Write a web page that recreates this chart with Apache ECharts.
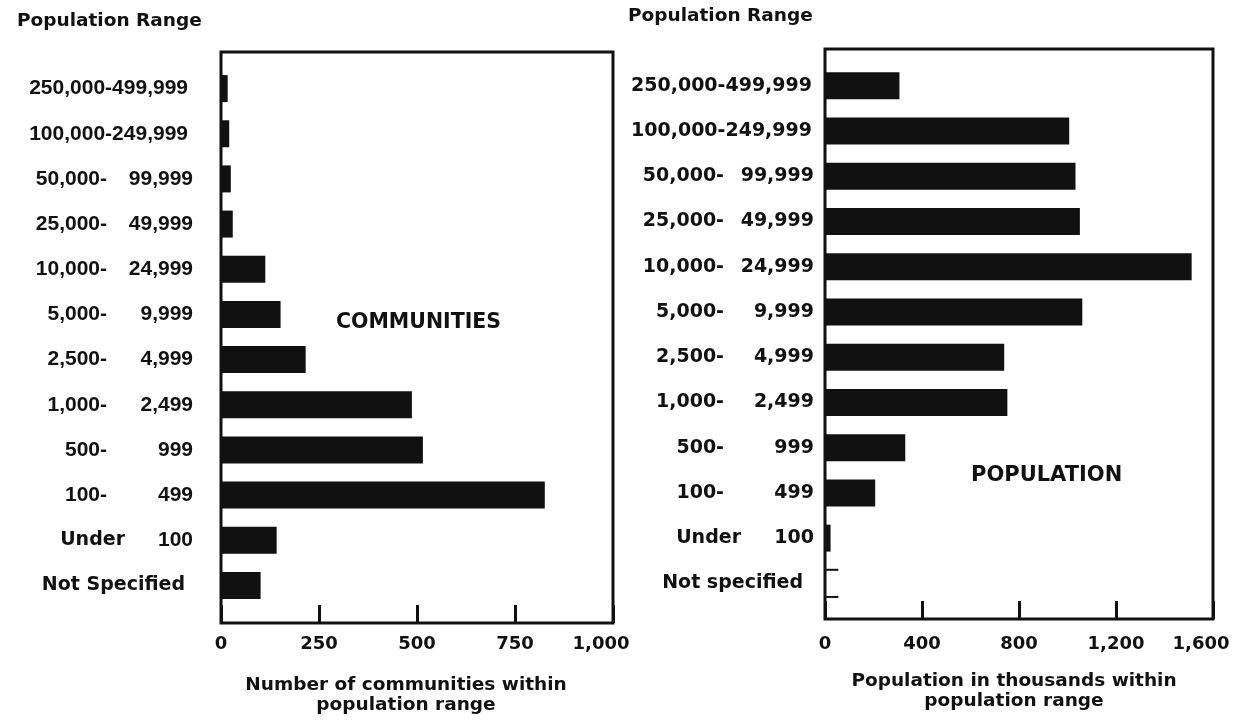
<!DOCTYPE html>
<html>
<head>
<meta charset="utf-8">
<title>Communities and population by population range</title>
<script src="https://cdn.jsdelivr.net/npm/echarts@6/dist/echarts.min.js"></script>
<style>
  html, body { margin: 0; padding: 0; background: #fff; }
  #chart { width: 1237px; height: 722px; }
</style>
</head>
<body>
<div id="chart"></div>
<script>
// Population ranges, top to bottom
const ranges = ['250,000-499,999', '100,000-249,999', '50,000-99,999', '25,000-49,999', '10,000-24,999',
    '5,000-9,999', '2,500-4,999', '1,000-2,499', '500-999', '100-499', 'Under 100', 'Not specified'];
const rangeFrom = ['250,000-', '100,000-', '50,000-', '25,000-', '10,000-', '5,000-', '2,500-', '1,000-', '500-', '100-', 'Under', ''];
const rangeTo = ['499,999', '249,999', '99,999', '49,999', '24,999', '9,999', '4,999', '2,499', '999', '499', '100', ''];
const notSpecifiedText = ['Not Specified', 'Not specified']; // left panel, right panel

// Number of communities within population range
const communityCounts = [17, 21, 25, 30, 113, 152, 216, 487, 515, 826, 142, 101];
// Population in thousands within population range (no figure for "Not specified")
const populationThousands = [307, 1007, 1033, 1051, 1512, 1061, 739, 752, 331, 207, 23, null];
// open stub drawn for "Not specified" on the population panel
const populationStub = [null, null, null, null, null, null, null, null, null, null, null, 55];

const communityTicks = [0, 250, 500, 750, 1000];
const populationTicks = [0, 400, 800, 1200, 1600];

const ink = '#111';
const sans = 'DejaVu Sans';

const chart = echarts.init(document.getElementById('chart'));

const rangeLabel = (panel) => (value, idx) => {
    if (idx === ranges.length - 1) return '{n|' + notSpecifiedText[panel] + '}';
    if (rangeFrom[idx] === 'Under') return '{u|Under}{c|' + rangeTo[idx] + '}';
    // six-digit ranges are printed as one run of text
    if (rangeFrom[idx].length > 7) return '{w|' + rangeFrom[idx] + rangeTo[idx] + '}';
    return '{a|' + rangeFrom[idx] + '}{b|' + rangeTo[idx] + '}';
};

const leftRich = {
    w: { fontFamily: 'Liberation Sans', fontWeight: 'bold', fontSize: 21, color: ink, padding: [0, 5, 0, 0] },
    a: { fontFamily: 'Liberation Sans', fontWeight: 'bold', fontSize: 21, color: ink, width: 83, align: 'right' },
    b: { fontFamily: 'Liberation Sans', fontWeight: 'bold', fontSize: 21, color: ink, width: 86, align: 'right' },
    u: { fontFamily: sans, fontWeight: 'bold', fontSize: 19, color: ink, width: 101, align: 'right' },
    c: { fontFamily: 'Liberation Sans', fontWeight: 'bold', fontSize: 21, color: ink, width: 68, align: 'right' },
    n: { fontFamily: sans, fontWeight: 'bold', fontSize: 19, color: ink, padding: [0, 8, 0, 0] }
};
const rightRich = {
    w: { fontFamily: sans, fontWeight: 'bold', fontSize: 19, color: ink, padding: [0, 2, 0, 0] },
    a: { fontFamily: sans, fontWeight: 'bold', fontSize: 19, color: ink, width: 90, align: 'right' },
    b: { fontFamily: sans, fontWeight: 'bold', fontSize: 19, color: ink, width: 90, align: 'right' },
    u: { fontFamily: sans, fontWeight: 'bold', fontSize: 19, color: ink, width: 107, align: 'right' },
    c: { fontFamily: sans, fontWeight: 'bold', fontSize: 19, color: ink, width: 73, align: 'right' },
    n: { fontFamily: sans, fontWeight: 'bold', fontSize: 19, color: ink, padding: [0, 11, 0, 0] }
};

const tickFont = { fontFamily: sans, fontWeight: 'bold', fontSize: 18, color: ink };

const valueAxis = (grid, ticks, name, labelMargin, namePad) => ({
    gridIndex: grid,
    type: 'value',
    min: ticks[0],
    max: ticks[ticks.length - 1],
    interval: ticks[1] - ticks[0],
    axisLine: { show: false },
    axisTick: { show: true, inside: true, length: 18, lineStyle: { color: ink, width: 3 } },
    splitLine: { show: false },
    axisLabel: {
        margin: labelMargin,
        ...tickFont,
        // the last label sits a little inside the frame corner
        formatter: v => v === ticks[ticks.length - 1]
            ? '{m|' + v.toLocaleString('en-US') + '}'
            : v.toLocaleString('en-US'),
        rich: { m: { ...tickFont, padding: [0, 24, 0, 0] } }
    },
    name: name,
    nameLocation: 'middle',
    nameGap: 52,
    nameTextStyle: { fontFamily: sans, fontWeight: 'bold', fontSize: 18.5, lineHeight: 20, color: ink, padding: [0, namePad, 0, 0] }
});

const hiddenValue = (grid, ticks) => ({
    gridIndex: grid, type: 'value', show: false,
    min: ticks[0], max: ticks[ticks.length - 1]
});

const categoryAxis = (grid, panel, margin, rich) => ({
    gridIndex: grid,
    type: 'category',
    data: ranges,
    inverse: true,
    axisLine: { show: false },
    axisTick: { show: false },
    axisLabel: { margin: margin, formatter: rangeLabel(panel), rich: rich }
});

const titleText = (text, left, top, size) => ({
    text: text, left: left, top: top, padding: 0,
    textStyle: { fontFamily: sans, fontWeight: 'bold', fontSize: size, color: ink }
});

chart.setOption({
    animation: false,
    backgroundColor: '#fff',
    title: [
        titleText('Population Range', 17, 12, 18.5),
        titleText('Population Range', 628, 7, 18.5),
        titleText('COMMUNITIES', 336, 312, 20.5),
        titleText('POPULATION', 971, 465, 21)
    ],
    grid: [
        // frames carrying the value axes, then the bar areas inside them
        { left: 221, top: 52, width: 392, height: 571, show: true, borderColor: ink, borderWidth: 3, outerBoundsMode: 'none' },
        { left: 221, top: 66, width: 392, height: 542, outerBoundsMode: 'none' },
        { left: 825, top: 49, width: 388, height: 570, show: true, borderColor: ink, borderWidth: 3, outerBoundsMode: 'none' },
        { left: 825, top: 63, width: 388, height: 543, outerBoundsMode: 'none' }
    ],
    xAxis: [
        valueAxis(0, communityTicks, 'Number of communities within\npopulation range', 12, 22),
        hiddenValue(1, communityTicks),
        valueAxis(2, populationTicks, 'Population in thousands within\npopulation range', 16, 10),
        hiddenValue(3, populationTicks)
    ],
    yAxis: [
        { gridIndex: 0, type: 'value', show: false },
        categoryAxis(1, 0, 28, leftRich),
        { gridIndex: 2, type: 'value', show: false },
        categoryAxis(3, 1, 11, rightRich)
    ],
    series: [
        {
            name: 'Communities',
            type: 'bar',
            xAxisIndex: 1, yAxisIndex: 1,
            data: communityCounts,
            barWidth: 27,
            itemStyle: { color: ink }
        },
        {
            name: 'Population',
            type: 'bar',
            xAxisIndex: 3, yAxisIndex: 3,
            data: populationThousands,
            barWidth: 27,
            itemStyle: { color: ink }
        },
        {
            name: 'Population not specified',
            type: 'custom',
            xAxisIndex: 3, yAxisIndex: 3,
            data: populationStub.map((v, i) => [v, i]).filter(d => d[0] != null),
            encode: { x: 0, y: 1 },
            renderItem: (params, api) => {
                const start = api.coord([0, api.value(1)]);
                const end = api.coord([api.value(0), api.value(1)]);
                const half = api.size([0, 1])[1] * 0.3;
                const style = { stroke: ink, lineWidth: 2 };
                return {
                    type: 'group',
                    children: [
                        { type: 'line', shape: { x1: start[0], y1: start[1] - half, x2: end[0], y2: end[1] - half }, style: style },
                        { type: 'line', shape: { x1: start[0], y1: start[1] + half, x2: end[0], y2: end[1] + half }, style: style }
                    ]
                };
            }
        }
    ]
});

window.addEventListener('resize', () => chart.resize());
</script>
</body>
</html>
